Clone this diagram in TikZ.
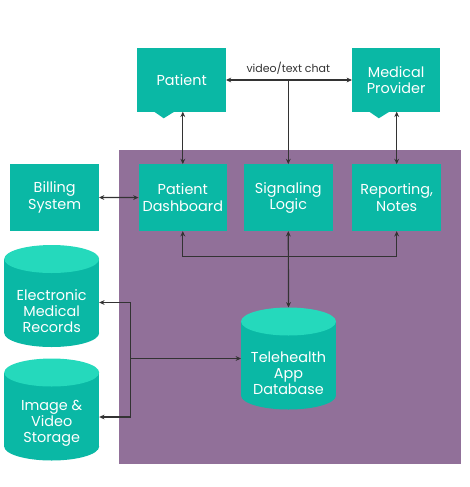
\documentclass[tikz,border=0pt]{standalone}
\usepackage{fontspec}
\setmainfont{Poppins}
\usetikzlibrary{arrows.meta,calc}
\definecolor{tealbox}{HTML}{0AB8A5}
\definecolor{tealtop}{HTML}{25D9BC}
\definecolor{appbg}{HTML}{917099}
\definecolor{linec}{HTML}{333333}
\begin{document}
\begin{tikzpicture}[x=0.75pt,y=-0.75pt,
  >={Stealth[length=4pt,width=3.6pt]},
  box/.style={fill=tealbox, text=white, minimum width=66.4pt, minimum height=50.25pt,
    align=center, inner sep=0pt, outer sep=0pt, font=\fontsize{10.8}{12.2}\selectfont},
  topbox/.style={box, minimum height=47.5pt},
  cyl/.style={minimum width=71.25pt, minimum height=76.5pt, inner sep=0pt, outer sep=0pt,
    path picture={
      \fill[tealbox] ([yshift=-10.5pt]path picture bounding box.north west) rectangle ([yshift=10.5pt]path picture bounding box.south east);
      \fill[tealbox] ([yshift=10.5pt]path picture bounding box.south) ellipse[x radius=35.6pt, y radius=10.5pt];
      \fill[tealtop] ([yshift=-10.5pt]path picture bounding box.north) ellipse[x radius=35.6pt, y radius=10.5pt];
    }},
  cyltext/.style={text=white, align=center, inner sep=0pt, font=\fontsize{10.8}{12.2}\selectfont},
  conn/.style={draw=linec, line width=0.9pt},
  lbl/.style={text=linec, inner sep=1pt, font=\fontsize{8.25}{10}\selectfont}
]
\useasboundingbox (0,0) rectangle (470,487);
% application area
\fill[appbg] (119.3,150) rectangle (460.7,464);

% boxes
\node[topbox] (pat) at (181.7,80) {Patient};
\node[topbox] (med) at (396.2,80) {Medical\\Provider};
\fill[tealbox] ($(pat.south west)+(16,-0.5)$) -- ++(10.3,7.1) -- ++(11.4,-7.1) -- cycle;
\fill[tealbox] ($(med.south west)+(16.6,-0.5)$) -- ++(10.3,7.1) -- ++(11.4,-7.1) -- cycle;

\node[box] (bill) at (54.7,197.5) {Billing\\System};
\node[box] (dash) at (182.8,197.6) {Patient\\Dashboard};
\node[box] (sig) at (288.3,197.6) {Signaling\\Logic};
\node[box] (rep) at (396.7,197.6) {Reporting,\\Notes};

% cylinders
\node[cyl] (emr) at (51.7,296) {};
\node[cyltext] (emrtxt) at (51.7,311) {Electronic\\Medical\\Records};
\node[cyl] (img) at (51.7,409.5) {};
\node[cyltext] (imgtxt) at (51.7,423.5) {Image \&\\Video\\Storage};
\node[cyl] (db) at (288.5,358.5) {};
\node[cyltext] (dbtxt) at (288.5,373) {Telehealth\\App\\Database};

% connectors
\draw[conn,<->] (pat.east) -- (med.west);
\coordinate (chat) at (sig.north |- pat.east);
\node[lbl, anchor=south] (chatlbl) at ($(chat)+(0,-4)$) {video/text chat};
\draw[conn,->] (chat) -- (sig.north);
\draw[conn,<->] (dash.north |- pat.south) -- (dash.north);
\draw[conn,<->] (rep.north |- med.south) -- (rep.north);
\draw[conn,<->] (bill.east) -- (dash.west);
\draw[conn,<->] (sig.south) -- (db.north);
\draw[conn,<->] (dash.south) -- ++(0,25.7) -| (rep.south);
\coordinate (tj) at (130.6,358.5);
\draw[conn,->] (tj) -- (db.west);
\draw[conn,->] (tj) |- ($(emr.east)+(0,6.5)$);
\draw[conn,->] (tj) |- ($(img.east)+(0,7.5)$);
\end{tikzpicture}
\end{document}
